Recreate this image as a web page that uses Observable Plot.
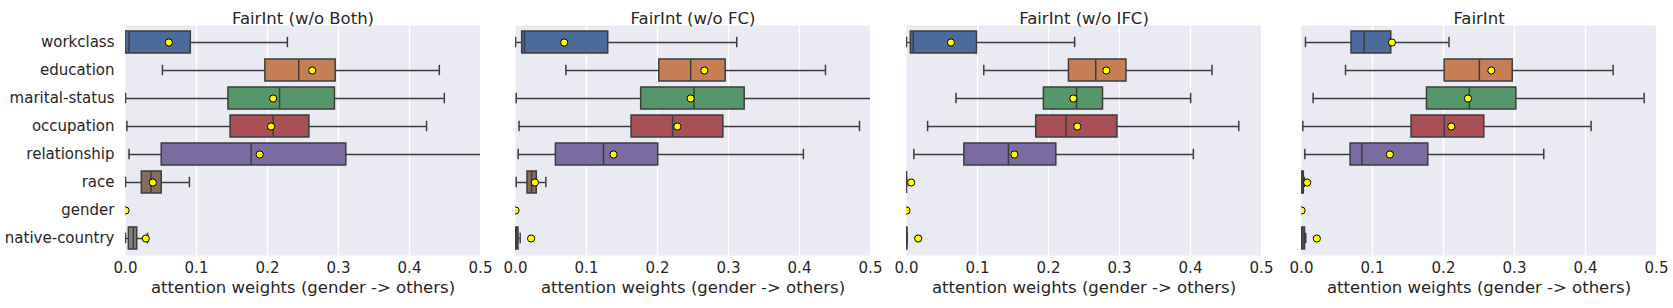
<!DOCTYPE html>
<html>
<head>
<meta charset="utf-8">
<script src="https://cdn.jsdelivr.net/npm/d3@7"></script>
<script src="https://cdn.jsdelivr.net/npm/@observablehq/plot@0.6"></script>
<style>
  html, body { margin: 0; padding: 0; background: white; }
  #wrap { position: relative; width: 1673px; height: 308px; overflow: hidden; }
  #wrap svg { position: absolute; top: 0; }
</style>
</head>
<body>
<div id="wrap"></div>
<script>
const categories = ["workclass", "education", "marital-status", "occupation", "relationship", "race", "gender", "native-country"];
const boxColors = ["#4c6a9c", "#c67e55", "#55976a", "#a94f56", "#7a6ca0", "#836e5f", "#c48aac", "#808080"];
const panelTitles = ["FairInt (w/o Both)", "FairInt (w/o FC)", "FairInt (w/o IFC)", "FairInt"];
const xTicks = [0, 0.1, 0.2, 0.3, 0.4, 0.5];
const xTickLabels = ["0.0", "0.1", "0.2", "0.3", "0.4", "0.5"];
const xLabel = "attention weights (gender -> others)";

// rows: [whisker low, Q1, median, Q3, whisker high, mean]
const woBoth = [
  [0.000, 0.000, 0.005, 0.092, 0.228, 0.061],
  [0.052, 0.197, 0.244, 0.296, 0.442, 0.263],
  [0.000, 0.145, 0.217, 0.295, 0.449, 0.208],
  [0.002, 0.148, 0.208, 0.259, 0.424, 0.205],
  [0.005, 0.051, 0.177, 0.311, 0.530, 0.189],
  [0.000, 0.023, 0.036, 0.051, 0.090, 0.0385],
  [null, null, null, null, null, 0.000],
  [0.000, 0.0047, 0.011, 0.0165, 0.031, 0.0286]
];
const woFC = [
  [0.000, 0.0094, 0.0127, 0.1306, 0.3116, 0.0686],
  [0.071, 0.2025, 0.2467, 0.296, 0.4366, 0.266],
  [0.001, 0.177, 0.2514, 0.3228, 0.520, 0.2467],
  [0.005, 0.1635, 0.2213, 0.2928, 0.4845, 0.228],
  [0.0038, 0.0569, 0.124, 0.201, 0.4055, 0.138],
  [0.001, 0.0169, 0.0226, 0.030, 0.0428, 0.0273],
  [null, null, null, null, null, 0.000],
  [0.000, 0.001, 0.002, 0.0042, 0.0066, 0.022]
];
const woIFC = [
  [0.000, 0.0061, 0.0094, 0.0993, 0.2368, 0.0626],
  [0.1088, 0.2288, 0.2665, 0.3098, 0.4303, 0.2815],
  [0.0697, 0.1935, 0.2396, 0.2768, 0.4002, 0.235],
  [0.0297, 0.1827, 0.2246, 0.2971, 0.468, 0.2406],
  [0.0104, 0.0815, 0.1436, 0.211, 0.404, 0.152],
  [0.000, 0.000, 0.000, 0.000, 0.000, 0.0066],
  [null, null, null, null, null, 0.000],
  [0.000, 0.000, 0.0005, 0.001, 0.001, 0.0165]
];
const full = [
  [0.0056, 0.0705, 0.0883, 0.1264, 0.2077, 0.1274],
  [0.062, 0.2016, 0.2505, 0.2975, 0.4389, 0.2674],
  [0.0164, 0.1767, 0.2364, 0.3026, 0.4826, 0.2345],
  [0.0019, 0.155, 0.2011, 0.2575, 0.4079, 0.211],
  [0.0047, 0.0691, 0.085, 0.1786, 0.3412, 0.1245],
  [0.000, 0.000, 0.001, 0.0033, 0.004, 0.008],
  [null, null, null, null, null, 0.000],
  [0.000, 0.0005, 0.002, 0.005, 0.006, 0.0216]
];
const panels = [woBoth, woFC, woIFC, full];

const edge = "#3d3d3d";
const textColor = "#262626";
const font = "DejaVu Sans";
const plotW = 355;
const layout = [
  {left: 0, ml: 125, mr: 20, showY: true},
  {left: 500, ml: 15, mr: 15, showY: false},
  {left: 891, ml: 15, mr: 15, showY: false},
  {left: 1286, ml: 15, mr: 15, showY: false}
];

function panel(title, rows, L) {
  const data = categories.map((c, i) => ({
    cat: c, low: rows[i][0], q1: rows[i][1], med: rows[i][2], q3: rows[i][3], high: rows[i][4], mean: rows[i][5]
  }));
  const boxes = data.filter(d => d.q1 != null);
  const ticks = xTicks.map((v, i) => ({v, label: xTickLabels[i]}));
  const marks = [
    Plot.frame({fill: "#eaeaf2", stroke: null}),
    Plot.ruleX(xTicks.slice(1), {stroke: "white", strokeWidth: 1.3}),
    Plot.ruleY(boxes, {y: "cat", x1: "low", x2: "high", stroke: edge, strokeWidth: 1.5, clip: true}),
    Plot.tickX(boxes, {x: "low", y: "cat", stroke: edge, strokeWidth: 1.5, insetTop: 5.75, insetBottom: 5.75, clip: true}),
    Plot.tickX(boxes, {x: "high", y: "cat", stroke: edge, strokeWidth: 1.5, insetTop: 5.75, insetBottom: 5.75, clip: true}),
    Plot.barX(boxes, {y: "cat", x1: "q1", x2: "q3", fill: "cat", stroke: edge, strokeWidth: 1.5, clip: true}),
    Plot.tickX(boxes, {x: "med", y: "cat", stroke: edge, strokeWidth: 1.5, clip: true}),
    Plot.dot(data, {x: "mean", y: "cat", r: 3.6, fill: "#ffff00", stroke: "black", strokeWidth: 1, clip: true}),
    // x tick labels
    Plot.text(ticks, {x: "v", text: "label", frameAnchor: "bottom", dy: 17, fontSize: 15, fontFamily: font, fill: textColor}),
    // panel title and x label
    Plot.text([title], {frameAnchor: "top", dy: -13, fontSize: 16.5, fontFamily: font, fill: textColor}),
    Plot.text([xLabel], {frameAnchor: "bottom", dy: 37, fontSize: 16.5, fontFamily: font, fill: textColor})
  ];
  if (L.showY) {
    marks.push(Plot.text(categories, {x: 0, y: d => d, text: d => d, dx: -11, textAnchor: "end", fontSize: 15, fontFamily: font, fill: textColor}));
  }
  return Plot.plot({
    width: L.ml + plotW + L.mr,
    height: 308,
    marginTop: 25,
    marginBottom: 53,
    marginLeft: L.ml,
    marginRight: L.mr,
    style: {fontFamily: font, fontSize: "15px", color: textColor, background: "transparent", overflow: "visible"},
    x: {domain: [0, 0.5], axis: null},
    y: {domain: categories, paddingInner: 0.2, paddingOuter: 0.1, axis: null},
    color: {domain: categories, range: boxColors},
    marks
  });
}

const wrap = document.getElementById("wrap");
panels.forEach((rows, i) => {
  const svg = panel(panelTitles[i], rows, layout[i]);
  svg.style.left = layout[i].left + "px";
  wrap.appendChild(svg);
});
</script>
</body>
</html>
